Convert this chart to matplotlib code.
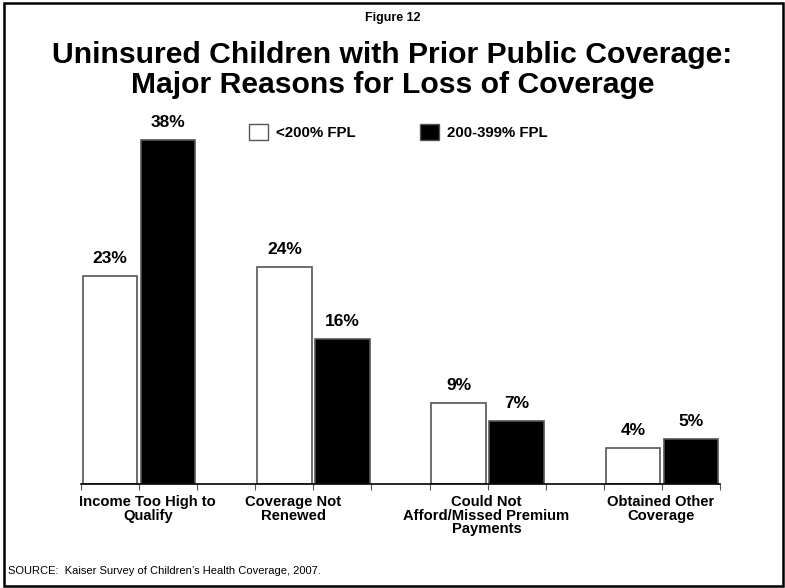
import numpy as np
import matplotlib.pyplot as plt
from matplotlib.patches import Patch, Rectangle

# data
categories = ['Income Too High to\nQualify', 'Coverage Not\nRenewed',
              'Could Not\nAfford/Missed Premium\nPayments', 'Obtained Other\nCoverage']
low_income = [23, 24, 9, 4]      # <200% FPL
mid_income = [38, 16, 7, 5]      # 200-399% FPL
series_names = ['<200% FPL', '200-399% FPL']

plt.rcParams['font.family'] = ['Liberation Sans', 'DejaVu Sans']

fig = plt.figure(figsize=(7.85, 5.88), dpi=100)
ax = fig.add_axes([81 / 785, 104 / 588, 639 / 785, 362 / 588])

x = np.arange(len(categories)) * 3
w = 0.94
b1 = ax.bar(x + 0.5, low_income, width=w, color='white', edgecolor='#555555', linewidth=1.2)
b2 = ax.bar(x + 1.5, mid_income, width=w, color='black', edgecolor='#555555', linewidth=1.2)

for bars, vals in [(b1, low_income), (b2, mid_income)]:
    for rect, v in zip(bars, vals):
        ax.annotate(f'{v}%', (rect.get_x() + rect.get_width() / 2, rect.get_height()),
                    xytext=(0, 7), textcoords='offset points', ha='center', va='bottom',
                    fontsize=12.5, fontweight='bold')

ax.set_xlim(0, 11)
ax.set_ylim(0, 40)
# tick marks at every bar edge, no tick labels
ax.set_xticks(np.arange(12))
ax.set_xticklabels([])
ax.tick_params(axis='x', direction='out', length=4, color='#555555')
ax.set_yticks([])
for s in ['top', 'right', 'left']:
    ax.spines[s].set_visible(False)
ax.spines['bottom'].set_linewidth(1.2)

# category labels sit a little off the group centres in the original
label_x = x + np.array([1.15, 0.65, 0.98, 0.98])
for lx, lab in zip(label_x, categories):
    ax.annotate(lab, (lx, 0), xycoords=ax.get_xaxis_transform(), xytext=(0, -8),
                textcoords='offset points', ha='center', va='top', fontsize=10.6,
                fontweight='bold', linespacing=0.95)

handles = [Patch(facecolor='white', edgecolor='#555555'), Patch(facecolor='black', edgecolor='#555555')]
fig.legend(handles, series_names, loc='center left', bbox_to_anchor=(235 / 785, 1 - 132 / 588),
           ncol=2, frameon=False, handlelength=1.3, handleheight=1.3, handletextpad=0.5,
           columnspacing=4.3, prop={'size': 10.8, 'weight': 'bold'})

fig.text(0.5, 1 - 18 / 588, 'Figure 12', ha='center', va='center', fontsize=9, fontweight='bold')
fig.text(0.5, 1 - 70 / 588, 'Uninsured Children with Prior Public Coverage:\nMajor Reasons for Loss of Coverage',
         ha='center', va='center', fontsize=21.7, fontweight='bold', linespacing=1.05)
fig.text(8 / 785, 1 - 571 / 588, 'SOURCE:  Kaiser Survey of Children\u2019s Health Coverage, 2007.',
         ha='left', va='center', fontsize=8)

fig.patches.append(Rectangle((4 / 785, 2 / 588), 779 / 785, 583 / 588, transform=fig.transFigure,
                             fill=False, edgecolor='black', linewidth=1.8))

fig.savefig('out.png', dpi=100)
